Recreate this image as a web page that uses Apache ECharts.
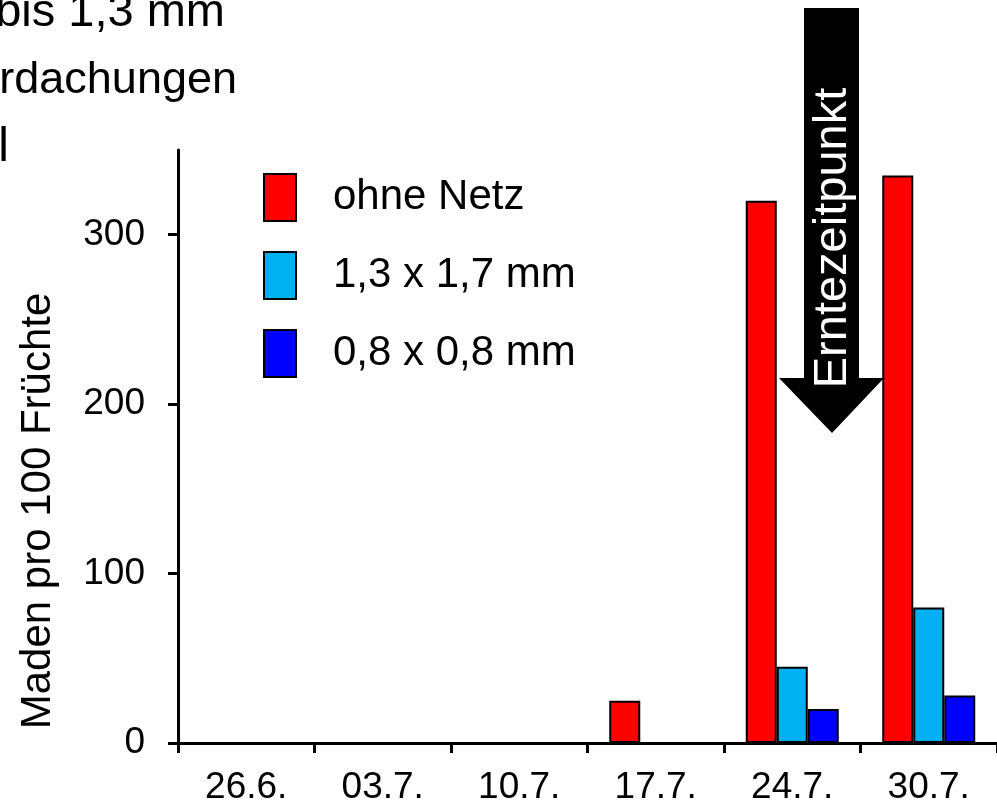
<!DOCTYPE html>
<html>
<head>
<meta charset="utf-8">
<script src="https://cdn.jsdelivr.net/npm/echarts@6/dist/echarts.min.js"></script>
<style>
html,body{margin:0;padding:0;background:#fff;}
#c{width:997px;height:806px;}
</style>
</head>
<body>
<div id="c"></div>
<script>
const categories = ['26.6.', '03.7.', '10.7.', '17.7.', '24.7.', '30.7.'];
const ohneNetz = [0, 0, 0, 25, 320, 335];
const netz13x17 = [0, 0, 0, 0, 45, 80];
const netz08x08 = [0, 0, 0, 0, 20, 28];
const yTicks = [0, 100, 200, 300];
const seriesNames = ['ohne Netz', '1,3 x 1,7 mm', '0,8 x 0,8 mm'];

const FONT = '"Liberation Sans", Arial, sans-serif';
const chart = echarts.init(document.getElementById('c'));

function barSeries(name, data, color) {
  return {
    name: name, type: 'bar', data: data,
    barWidth: 31, barGap: '0%',
    itemStyle: {color: color, borderColor: '#000', borderWidth: 2},
    emphasis: {disabled: true}
  };
}

chart.setOption({
  animation: false,
  backgroundColor: '#fff',
  grid: {left: 178, right: 0, top: 150, bottom: 60, containLabel: false},
  legend: {
    orient: 'vertical', left: 258, top: 168,
    itemWidth: 32, itemHeight: 47, itemGap: 29,
    icon: 'rect',
    itemStyle: {borderColor: '#000', borderWidth: 2},
    textStyle: {fontFamily: FONT, fontSize: 42, color: '#000', padding: [4, 0, 0, 32]},
    data: seriesNames
  },
  xAxis: {
    type: 'category', data: categories, boundaryGap: true,
    axisLine: {lineStyle: {color: '#000', width: 3}},
    axisTick: {show: true, alignWithLabel: false, length: 10, lineStyle: {color: '#000', width: 3}},
    axisLabel: {fontFamily: FONT, fontSize: 37, color: '#000', margin: 26}
  },
  yAxis: {
    type: 'value', min: 0, max: 350, interval: 50,
    splitLine: {show: false},
    axisLine: {show: true, lineStyle: {color: '#000', width: 3}},
    axisTick: {show: true, length: 10, lineStyle: {color: '#000', width: 3}, customValues: yTicks},
    axisLabel: {fontFamily: FONT, fontSize: 37, color: '#000', margin: 33, customValues: yTicks}
  },
  series: [
    barSeries(seriesNames[0], ohneNetz, '#ff0000'),
    barSeries(seriesNames[1], netz13x17, '#00b0f0'),
    barSeries(seriesNames[2], netz08x08, '#0000ff')
  ],
  graphic: [
    {type: 'text', x: 225, y: 13,
     style: {text: 'bis 1,3 mm', font: '47px ' + FONT, fill: '#000', align: 'right', verticalAlign: 'middle'}},
    {type: 'text', x: 237, y: 81,
     style: {text: 'rdachungen', font: '45px ' + FONT, fill: '#000', align: 'right', verticalAlign: 'middle'}},
    {type: 'text', x: 9, y: 148,
     style: {text: 'l', font: '48px ' + FONT, fill: '#000', align: 'right', verticalAlign: 'middle'}},
    {type: 'text', x: 38, y: 511, rotation: Math.PI / 2,
     style: {text: 'Maden pro 100 Früchte', font: '42px ' + FONT, fill: '#000', align: 'center', verticalAlign: 'middle'}},
    {type: 'polygon', z: 100,
     shape: {points: [[804, 8], [859, 8], [859, 378], [884, 378], [832, 433], [779, 378], [804, 378]]},
     style: {fill: '#000'}},
    {type: 'text', z: 101, x: 833, y: 238, rotation: Math.PI / 2,
     style: {text: 'Erntezeitpunkt', font: '47px ' + FONT, fill: '#fff', align: 'center', verticalAlign: 'middle'}}
  ]
});
</script>
</body>
</html>
